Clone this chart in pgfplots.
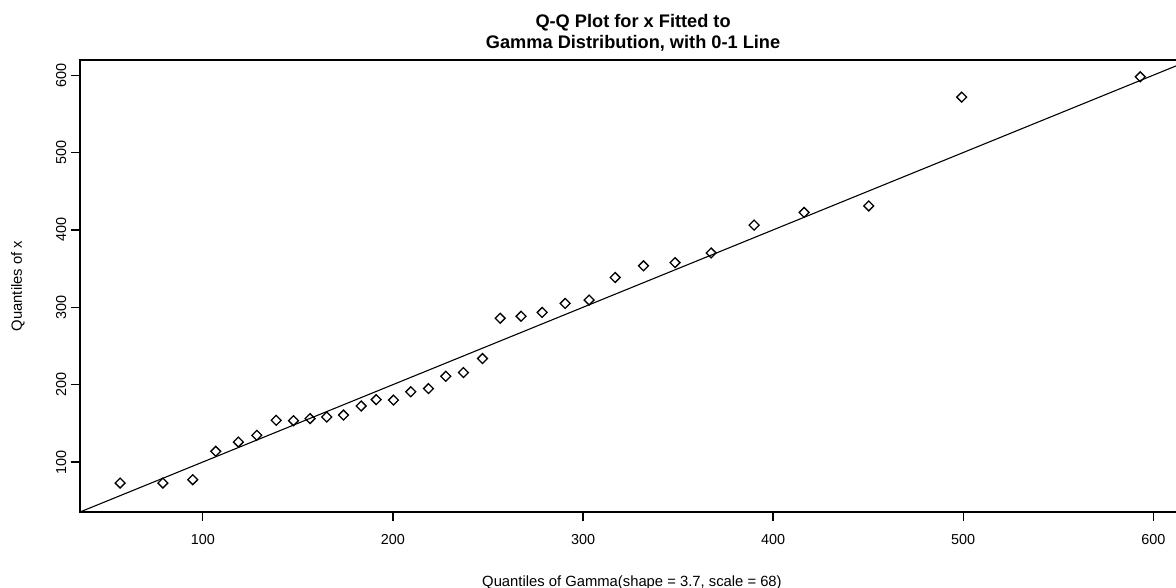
\documentclass[border=0pt]{standalone}
\usepackage{pgfplots}
\pgfplotsset{compat=1.18}
\usepackage{fontspec}
\setmainfont{Liberation Sans}
\begin{document}
\begin{tikzpicture}
\useasboundingbox (-40pt,-38pt) rectangle (548pt,256pt);
\begin{axis}[
  at={(0,0)}, anchor=south west,
  scale only axis, width=555.3pt, height=226pt,
  xmin=35.4, xmax=619.6, ymin=35.4, ymax=619.6,
  xtick={100,200,...,600}, ytick={100,200,...,600},
  tick align=outside, major tick length=4.5pt,
  tick pos=left,
  axis line style={line width=0.65pt},
  every tick/.style={black, line width=0.65pt},
  ticklabel style={font=\fontsize{7.2}{8}\selectfont},
  /pgf/number format/assume math mode=true,
  xticklabel style={anchor=base, inner sep=0pt},
  xticklabel shift=11.5pt,
  yticklabel style={rotate=90, anchor=base, inner sep=0pt},
  yticklabel shift=2.5pt,
  clip mode=individual,
]
\addplot[black, line width=0.55pt] coordinates {(35.4,35.4) (619.6,619.6)};
\addplot[only marks, mark=square, mark size=1.75pt, mark options={rotate=45, line width=0.65pt, fill=none, draw=black}] table {
x y
56.5 72.8
79.0 72.8
94.7 77.2
106.8 113.8
118.7 125.8
128.4 134.5
138.6 153.9
147.7 153.4
156.4 156.1
165.2 158.2
174.0 160.7
183.3 172.4
191.2 180.6
200.3 180.0
209.4 190.8
218.7 194.9
227.8 210.8
237.1 215.6
247.1 233.7
256.4 285.8
267.4 288.4
278.5 293.4
290.6 305.0
303.2 309.3
316.9 338.5
331.8 353.6
348.4 357.7
367.4 370.2
390.0 406.2
416.3 422.5
450.3 431.0
499.2 571.6
593.1 597.8
};
\node[anchor=base, inner sep=0pt, yshift=16.35pt, font=\bfseries\fontsize{9.1}{10}\selectfont] at (rel axis cs:0.498,1) {Q-Q Plot for x Fitted to};
\node[anchor=base, inner sep=0pt, yshift=5.85pt, font=\bfseries\fontsize{9.1}{10}\selectfont] at (rel axis cs:0.498,1) {Gamma Distribution, with 0-1 Line};
\node[anchor=base, inner sep=0pt, yshift=-37pt, font=\fontsize{7.4}{8}\selectfont] at (rel axis cs:0.497,0) {Quantiles of Gamma(shape = 3.7, scale = 68)};
\node[anchor=base, inner sep=0pt, rotate=90, font=\fontsize{7.4}{8}\selectfont] at ([xshift=-29pt]rel axis cs:0,0.5) {Quantiles of x};
\end{axis}
\end{tikzpicture}
\end{document}
